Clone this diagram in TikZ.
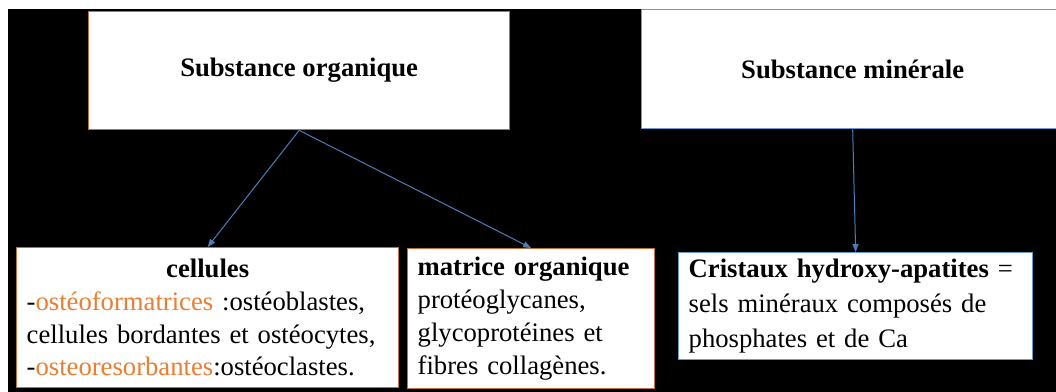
\documentclass[tikz,border=0pt]{standalone}
\usepackage{fontspec}
\setmainfont{Liberation Serif}
\usetikzlibrary{arrows.meta}
\definecolor{borg}{HTML}{C0703A}
\definecolor{bmin}{HTML}{6A9AD0}
\definecolor{conn}{HTML}{4A7EBB}
\definecolor{otext}{HTML}{ED7D31}
\tikzset{
  every node/.style={font=\fontsize{20pt}{24.6pt}\selectfont},
  box/.style={draw, fill=white, line width=1pt, inner xsep=7.5pt, inner ysep=0pt, anchor=north west, align=left},
  orgbox/.style={box, draw=borg},
  minbox/.style={box, draw=bmin},
  conn/.style={draw=conn, line width=0.75pt, -{Triangle[length=6pt,width=4.5pt]}}
}
\begin{document}
\begin{tikzpicture}[x=0.75pt,y=-0.75pt]
\useasboundingbox (0,0) rectangle (1056,392);
\fill[white] (0,0) rectangle (1056,392);
\fill[black] (8,9) rectangle (1056,392);

\node[orgbox, minimum width={421*0.75pt}, minimum height={118*0.75pt}, align=center] (org) at (88,11) {\raisebox{-2.5pt}{\textbf{Substance organique}}};
\node[minbox, minimum width={422*0.75pt}, minimum height={119*0.75pt}, align=center] (min) at (641,9) {\raisebox{-2pt}{\textbf{Substance minérale}}};

\node[orgbox, minimum width={382*0.75pt}, minimum height={140*0.75pt}, text width={(382-20)*0.75pt}] (cel) at (16,247)
  {\makebox[\linewidth]{\textbf{cellules}}\\
   -\textcolor{otext}{ostéoformatrices} :ostéoblastes,\\
   cellules bordantes et ostéocytes,\\
   -\textcolor{otext}{osteoresorbantes}:ostéoclastes.};
\node[orgbox, minimum width={247*0.75pt}, minimum height={140*0.75pt}, text width={(247-20)*0.75pt}] (mat) at (407,248)
  {\textbf{matrice organique}\\
   protéoglycanes,\\
   glycoprotéines et\\
   fibres collagènes.};
\node[minbox, minimum width={354*0.75pt}, minimum height={107*0.75pt}, text width={(354-20)*0.75pt}, font=\fontsize{20pt}{26pt}\selectfont] (cri) at (678,252)
  {\textbf{Cristaux hydroxy-apatites} =\\
   sels minéraux composés de\\
   phosphates et de Ca};

\draw[conn] (org.south) -- (cel.north);
\draw[conn] (org.south) -- (mat.north);
\draw[conn] (min.south) -- (cri.north);
\end{tikzpicture}
\end{document}
